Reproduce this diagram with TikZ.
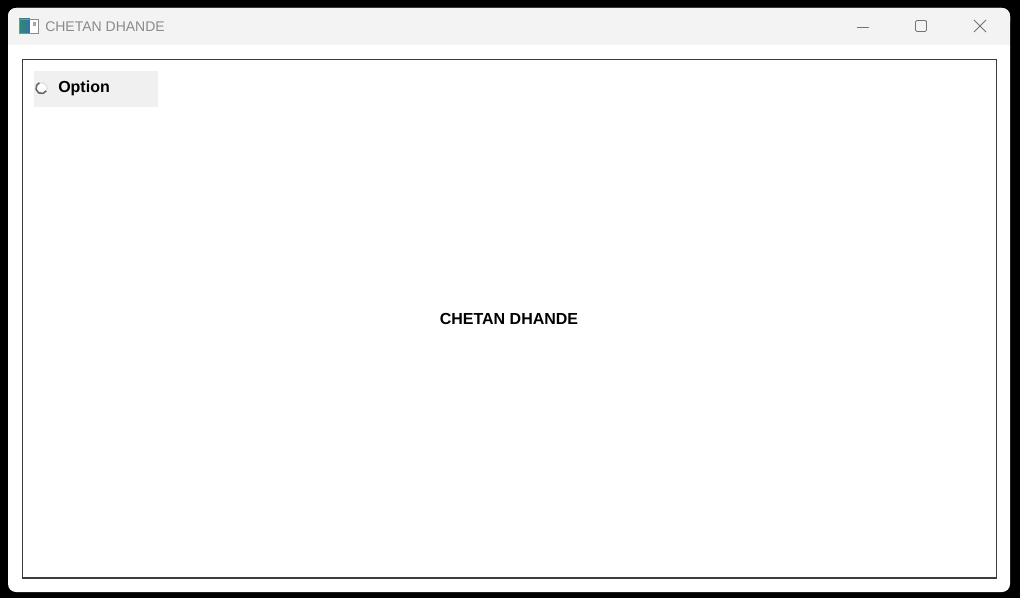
\documentclass[tikz,border=0pt]{standalone}
\usepackage{fontspec}
\setmainfont{Liberation Sans}
\usetikzlibrary{positioning}
\definecolor{titlegray}{HTML}{F3F3F3}
\definecolor{panelgray}{HTML}{F0F0F0}
\definecolor{captiongray}{HTML}{8A8A8A}
\definecolor{framegray}{HTML}{3C3C3C}
\definecolor{icongreen}{HTML}{2E8B72}
\definecolor{iconteal}{HTML}{3A6FA8}
\begin{document}
\begin{tikzpicture}[x=0.75pt,y=-0.75pt,
    winbtn/.style={draw=black!55,line width=0.6pt},
    label/.style={font=\fontsize{12}{14}\selectfont\bfseries,text=black,inner sep=0pt}]
    % Background and window
    \fill[black] (0,0) rectangle (1020,598);
    \useasboundingbox (0,0) rectangle (1020,598);
    \fill[white,rounded corners=6pt] (8,8) rectangle (1010,592);
    \fill[titlegray,rounded corners=6pt] (8,8) rectangle (1010,30);
    \fill[titlegray] (8,20) rectangle (1010,45);

    % Title bar
    \shade[left color=icongreen,right color=iconteal] (19,19) rectangle (30,33);
    \fill[white] (30,19) rectangle (38,33);
    \draw[black!45,line width=0.6pt] (19,19) rectangle (38,33);
    \fill[black!35] (33,22) rectangle (36,26);
    \node[anchor=west,inner sep=0pt,text=captiongray,font=\fontsize{10.5}{12}\selectfont] (caption) at (45,26.5) {CHETAN DHANDE};
    \coordinate (minl) at (857,27);
    \coordinate (minr) at (869,27);
    \draw[winbtn] (minl) -- (minr);
    \draw[winbtn,rounded corners=1pt] (915.5,20.5) rectangle (926.5,31.5);
    \draw[winbtn] (974,20) -- (986,32);
    \draw[winbtn] (986,20) -- (974,32);

    % Client frame
    \draw[framegray,line width=1.1pt] (22.5,59.5) rectangle (996.5,578);

    % Radio button
    \fill[panelgray] (34,71) rectangle (158,107);
    \node[circle,fill=white,minimum size=9pt,inner sep=0pt] (radio) at (41.5,88) {};
    \draw[black!60,line width=1.2pt] (radio.center) ++(30:5.6) arc[start angle=30,end angle=250,radius=5.6];
    \draw[black!12,line width=1pt] (radio.center) ++(250:5.6) arc[start angle=250,end angle=390,radius=5.6];
    \node[label,anchor=west] (option) at (58,88.5) {Option};

    % Centre label
    \node[label] (name) at (509,318.5) {CHETAN DHANDE};
\end{tikzpicture}
\end{document}
